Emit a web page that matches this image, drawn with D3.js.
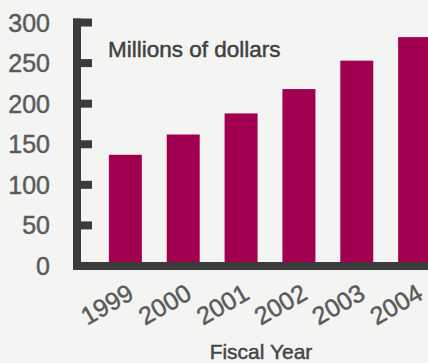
<!DOCTYPE html>
<html>
<head>
<meta charset="utf-8">
<script src="https://cdn.jsdelivr.net/npm/d3@7"></script>
<style>
  body { margin: 0; background: #f4f4f2; }
  text { font-family: "Liberation Sans", Arial, sans-serif; stroke-width: 0.45px; }
</style>
</head>
<body>
<div id="chart"></div>
<script>
// data
var years = ["1999", "2000", "2001", "2002", "2003", "2004"];
var values = [137, 162, 188, 218, 253, 282];
var yTicks = [0, 50, 100, 150, 200, 250, 300];

var width = 428, height = 363;

var svg = d3.select("#chart")
    .append("svg")
    .attr("width", width)
    .attr("height", height)
    .style("background", "#f4f4f2");

// scales
var x = d3.scaleBand()
    .domain(years)
    .range([84, 456])
    .padding(0.43);

var y = d3.scaleLinear()
    .domain([0, 300])
    .range([266, 22.5]);

// bars
svg.selectAll("rect.bar")
    .data(values)
    .enter()
    .append("rect")
    .attr("class", "bar")
    .attr("fill", "#a0004f")
    .attr("x", function(d, i) { return x(years[i]); })
    .attr("width", x.bandwidth())
    .attr("y", function(d) { return y(d); })
    .attr("height", function(d) { return y(0) - y(d); });

// y axis: thick line with short ticks
var axisColor = "#3a3b3a";
svg.append("line")
    .attr("x1", 77).attr("x2", 77)
    .attr("y1", y(300) - 4).attr("y2", y(0) + 4)
    .attr("stroke", axisColor)
    .attr("stroke-width", 8);

svg.selectAll("line.tick")
    .data(yTicks.slice(1))
    .enter()
    .append("line")
    .attr("class", "tick")
    .attr("x1", 73).attr("x2", 92)
    .attr("y1", function(d) { return y(d); })
    .attr("y2", function(d) { return y(d); })
    .attr("stroke", axisColor)
    .attr("stroke-width", 8);

svg.selectAll("text.ylab")
    .data(yTicks)
    .enter()
    .append("text")
    .attr("class", "ylab")
    .attr("x", 50)
    .attr("y", function(d) { return y(d); })
    .attr("dy", "0.36em")
    .attr("text-anchor", "end")
    .attr("font-size", 25)
    .attr("fill", "#5a5a5a")
    .attr("stroke", "#5a5a5a")
    .text(function(d) { return d; });

// x axis line
svg.append("line")
    .attr("x1", 73).attr("x2", width)
    .attr("y1", y(0)).attr("y2", y(0))
    .attr("stroke", axisColor)
    .attr("stroke-width", 8);

// rotated year labels
svg.selectAll("text.xlab")
    .data(years)
    .enter()
    .append("text")
    .attr("class", "xlab")
    .attr("text-anchor", "end")
    .attr("font-size", 25)
    .attr("fill", "#5a5a5a")
    .attr("stroke", "#5a5a5a")
    .attr("transform", function(d) {
        var cx = x(d) + x.bandwidth() / 2 + 10;
        return "translate(" + cx + ",298) rotate(-30)";
    })
    .text(function(d) { return d; });

// unit note and axis title
svg.append("text")
    .attr("x", 108)
    .attr("y", 57)
    .attr("font-size", 22.5)
    .attr("fill", "#404040")
    .attr("stroke", "#404040")
    .text("Millions of dollars");

svg.append("text")
    .attr("x", 261)
    .attr("y", 359)
    .attr("text-anchor", "middle")
    .attr("font-size", 21)
    .attr("fill", "#454545")
    .attr("stroke", "#454545")
    .text("Fiscal Year");
</script>
</body>
</html>
